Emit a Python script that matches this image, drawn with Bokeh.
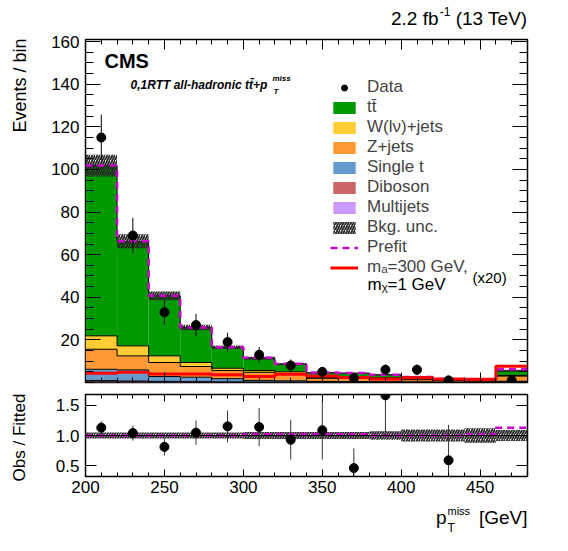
import numpy as np
from bokeh.plotting import figure
from bokeh.models import (Range1d, LinearAxis, FixedTicker, Label, Legend,
                          LegendItem, CustomJSTickFormatter, Span)
from bokeh.layouts import column, row
from bokeh.embed import file_html
from bokeh.resources import INLINE

# ---------------- data ----------------
bin_edges = [200, 220, 240, 260, 280, 300, 320, 340, 360, 380, 400, 420, 440, 460, 480]
data_counts = [115, 69, 33, 27, 19, 13, 8, 5, 2, 6, 6, 1, 0, 1]
multijets = [0.3, 0.2, 0.2, 0.1, 0.1, 0.1, 0.1, 0.05, 0.05, 0.05, 0.05, 0.05, 0.05, 0.1]
diboson = [0.6, 0.5, 0.3, 0.3, 0.2, 0.1, 0.1, 0.1, 0.1, 0.05, 0.05, 0.05, 0.05, 0.1]
single_t = [5.3, 5.2, 2.3, 2.1, 1.5, 0.8, 0.6, 0.4, 0.3, 0.3, 0.2, 0.1, 0.1, 0.4]
zjets = [9.4, 6.6, 6.6, 5.0, 3.8, 3.8, 3.1, 1.4, 1.6, 1.4, 1.0, 0.7, 0.5, 2.4]
wjets = [6.3, 4.7, 3.1, 1.9, 1.1, 0.8, 1.1, 0.3, 0.5, 0.4, 0.3, 0.2, 0.2, 0.3]
ttbar = [79.9, 49.1, 28.2, 16.4, 9.8, 5.8, 3.6, 2.35, 1.8, 1.4, 1.0, 0.6, 0.4, 2.2]
signal_x20 = [4.3, 4.8, 4.0, 4.0, 3.6, 2.8, 3.9, 3.0, 2.3, 1.7, 2.2, 1.7, 1.5, 7.6]
prefit_over_fit = [1.0, 1.0, 1.0, 1.0, 1.0, 1.02, 1.02, 1.02, 1.02, 1.0, 1.0, 1.0, 1.02, 1.13]
bkg_rel_unc = [0.05, 0.05, 0.05, 0.05, 0.05, 0.06, 0.06, 0.06, 0.06, 0.07, 0.1, 0.1, 0.12, 0.09]
x_major_ticks = [200, 250, 300, 350, 400, 450]
x_minor_ticks = list(range(200, 481, 10))
y_major_ticks = [20, 40, 60, 80, 100, 120, 140, 160]
y_minor_ticks = list(range(0, 162, 5))
ratio_ticks = [0.5, 1.0, 1.5]

colors = {"Multijets": "#cc99ff", "Diboson": "#cc6666", "Single t": "#6699cc",
          "Z+jets": "#ff9933", "W(lν)+jets": "#ffcc33", "tt\u0304": "#009900"}

FONT = "Liberation Sans"

# ---------------- layout geometry (page pixels) ----------------
XL = 30            # left strip holding the rotated axis titles
W = 530            # width of the column of panels
H0 = 30            # strip above (luminosity title)
FR_L, FR_R = 85, 527
P1_T, P1_B = 39, 382
P2_T, P2_B = 394, 476
H1 = 359
H2 = 112
H3 = 49
X0, X1 = 200, 480
Y1MAX = 161
R0, R1 = 0.32, 1.68
BORDER_L = FR_L - XL
BORDER_R = XL + W - FR_R


def gx(px):
    return X0 + (px - FR_L) * (X1 - X0) / (FR_R - FR_L)


def g1(py):
    return Y1MAX * (P1_B - py) / (P1_B - P1_T)


def text_strip(y0, h):
    # a text-only panel whose data coordinates are page pixels
    f = figure(width=W, height=h, x_range=Range1d(FR_L, FR_R), y_range=Range1d(y0 + h, y0),
               output_backend="svg", toolbar_location=None, title_location=None,
               min_border_left=BORDER_L, min_border_right=BORDER_R,
               min_border_top=0, min_border_bottom=0,
               x_axis_location=None, y_axis_location=None)
    f.outline_line_color = None
    f.grid.visible = False
    return f


def style_axes(p, xmaj_in, xmin_in, ymaj_in, ymin_in, xticker, yticker, xlabels):
    empty = CustomJSTickFormatter(code="return ''")
    p.add_layout(LinearAxis(), "above")
    p.add_layout(LinearAxis(), "right")
    for ax in p.xaxis:
        ax.ticker = xticker
        ax.major_tick_in, ax.major_tick_out = xmaj_in, 0
        ax.minor_tick_in, ax.minor_tick_out = xmin_in, 0
    for ax in p.yaxis:
        ax.ticker = yticker
        ax.major_tick_in, ax.major_tick_out = ymaj_in, 0
        ax.minor_tick_in, ax.minor_tick_out = ymin_in, 0
    for ax in p.axis:
        ax.axis_line_color = None
        ax.major_tick_line_color = "black"
        ax.minor_tick_line_color = "black"
        ax.major_label_text_font = FONT
        ax.major_label_text_font_size = "17px"
        ax.major_label_text_color = "black"
    for ax in p.above + p.right:
        ax.formatter = empty
        ax.major_label_text_font_size = "0px"
        ax.major_label_standoff = 0
    if not xlabels:
        p.below[0].formatter = empty
        p.below[0].major_label_text_font_size = "0px"
        p.below[0].major_label_standoff = 0
    else:
        p.below[0].major_label_standoff = 4
    p.left[0].major_label_standoff = 6
    p.outline_line_color = "black"
    p.outline_line_width = 1.5
    p.grid.visible = False


edges = np.array(bin_edges, dtype=float)
left, right = edges[:-1], edges[1:]
centers = 0.5 * (left + right)


def stepy(v):
    v = np.asarray(v, dtype=float)
    return np.append(v, v[-1])


txt = dict(text_font=FONT, text_color="black")

# ---------------- main panel ----------------
p1 = figure(width=W, height=H1, x_range=Range1d(X0, X1), y_range=Range1d(0, Y1MAX),
            output_backend="svg", toolbar_location=None, title_location=None,
            min_border_left=BORDER_L, min_border_right=BORDER_R,
            min_border_top=P1_T - H0, min_border_bottom=H0 + H1 - P1_B)

stack = [("Multijets", multijets), ("Diboson", diboson), ("Single t", single_t),
         ("Z+jets", zjets), ("W(lν)+jets", wjets), ("tt\u0304", ttbar)]
bottom = np.zeros(len(left))
tops = []
stack_r = {}
for name, vals in stack:
    top = bottom + np.array(vals, dtype=float)
    stack_r[name] = p1.quad(left=left, right=right, bottom=bottom, top=top,
                            fill_color=colors[name], line_color=None)
    tops.append(top)
    bottom = top
total = bottom
for top in tops:
    p1.step(x=edges, y=stepy(top), mode="after", line_color="black", line_width=1)

unc = total * np.array(bkg_rel_unc)
hatch_kw = dict(fill_alpha=0, line_color=None, hatch_pattern="/", hatch_color="#262626",
                hatch_scale=5, hatch_weight=1.8)
unc_r = p1.quad(left=left, right=right, bottom=total - unc, top=total + unc, **hatch_kw)

prefit = total * np.array(prefit_over_fit)
prefit_r = p1.step(x=edges, y=stepy(prefit), mode="after", line_color="#cc00cc",
                   line_width=2.5, line_dash="7 5")
sig_r = p1.step(x=edges, y=stepy(signal_x20), mode="after", line_color="#ff0000", line_width=3)

d = np.array(data_counts, dtype=float)
m = d > 0
derr = np.sqrt(d)
p1.segment(x0=centers[m], y0=(d - derr)[m], x1=centers[m], y1=(d + derr)[m],
           line_color="black", line_width=1)
data_r = p1.scatter(x=centers[m], y=d[m], size=9, marker="circle",
                    fill_color="black", line_color="black")

style_axes(p1, 10, 5, 15, 8,
           FixedTicker(ticks=x_major_ticks, minor_ticks=x_minor_ticks),
           FixedTicker(ticks=y_major_ticks, minor_ticks=y_minor_ticks), False)

items = [LegendItem(label="Data", renderers=[data_r])]
for name in ["tt\u0304", "W(lν)+jets", "Z+jets", "Single t", "Diboson", "Multijets"]:
    items.append(LegendItem(label=name, renderers=[stack_r[name]]))
items.append(LegendItem(label="Bkg. unc.", renderers=[unc_r]))
items.append(LegendItem(label="Prefit", renderers=[prefit_r]))
items.append(LegendItem(label="m\u2090=300 GeV,", renderers=[sig_r]))
legend = Legend(items=items, location=(330 - FR_L, P1_B - 277),
                glyph_width=28, glyph_height=15, label_height=20, spacing=0,
                padding=0, margin=0, label_standoff=9,
                label_text_font=FONT, label_text_font_size="17px",
                border_line_alpha=0, background_fill_alpha=0)
p1.add_layout(legend)

p1.add_layout(Label(x=gx(367), y=g1(284), text="m\u1d6a=1 GeV", text_font_size="17px",
                    text_baseline="middle", **txt))
p1.add_layout(Label(x=gx(472), y=g1(277), text="(x20)", text_font_size="15px",
                    text_baseline="middle", **txt))
p1.add_layout(Label(x=gx(104), y=g1(60), text="CMS", text_font_size="20px",
                    text_font_style="bold", text_baseline="middle", **txt))
p1.add_layout(Label(x=gx(130), y=g1(84), text="0,1RTT all-hadronic tt\u0304+p",
                    text_font_size="12px", text_font_style="bold italic",
                    text_baseline="middle", **txt))
p1.add_layout(Label(x=gx(272), y=g1(78), text="miss", text_font_size="8px",
                    text_font_style="bold italic", text_baseline="middle", **txt))
p1.add_layout(Label(x=gx(273), y=g1(91), text="T", text_font_size="8px",
                    text_font_style="bold italic", text_baseline="middle", **txt))

# ---------------- ratio panel ----------------
p2 = figure(width=W, height=H2, x_range=p1.x_range, y_range=Range1d(R0, R1),
            output_backend="svg", toolbar_location=None, title_location=None,
            min_border_left=BORDER_L, min_border_right=BORDER_R,
            min_border_top=P2_T - (H0 + H1), min_border_bottom=H0 + H1 + H2 - P2_B)

rel = np.array(bkg_rel_unc)
p2.quad(left=left, right=right, bottom=1 - rel, top=1 + rel, **hatch_kw)
p2.add_layout(Span(location=1.0, dimension="width", line_color="black", line_width=1.2))
p2.step(x=edges, y=stepy(prefit_over_fit), mode="after", line_color="#cc00cc",
        line_width=2.5, line_dash="7 5")

ratio = np.where(d > 0, d / total, 0.0)
rerr = derr / total
show = (d > 0) & (ratio > R0) & (ratio < R1)
p2.segment(x0=centers[show], y0=(ratio - rerr)[show], x1=centers[show], y1=(ratio + rerr)[show],
           line_color="#333333", line_width=1)
p2.scatter(x=centers[show], y=ratio[show], size=9, marker="circle",
           fill_color="black", line_color="black")

style_axes(p2, 7, 4, 11, 0,
           FixedTicker(ticks=x_major_ticks, minor_ticks=x_minor_ticks),
           FixedTicker(ticks=ratio_ticks, minor_ticks=[]), True)
p2.left[0].formatter = CustomJSTickFormatter(code="return tick.toFixed(1)")

# ---------------- text strips (page-pixel coordinates) ----------------
p0 = text_strip(0, H0)
p0.add_layout(Label(x=527, y=18, text="(13 TeV)", text_font_size="19px",
                    text_align="right", text_baseline="middle", **txt))
p0.add_layout(Label(x=450, y=11, text="-1", text_font_size="12px",
                    text_align="right", text_baseline="middle", **txt))
p0.add_layout(Label(x=438, y=18, text="2.2 fb", text_font_size="19px",
                    text_align="right", text_baseline="middle", **txt))

Y3 = H0 + H1 + H2
p3 = text_strip(Y3, H3)
p3.add_layout(Label(x=527, y=517, text="[GeV]", text_font_size="19px",
                    text_align="right", text_baseline="middle", **txt))
p3.add_layout(Label(x=447, y=510, text="miss", text_font_size="11px",
                    text_baseline="middle", **txt))
p3.add_layout(Label(x=447, y=527, text="T", text_font_size="12px",
                    text_baseline="middle", **txt))
p3.add_layout(Label(x=446, y=517, text="p", text_font_size="19px",
                    text_align="right", text_baseline="middle", **txt))

pL = figure(width=XL, height=H0 + H1 + H2 + H3, x_range=Range1d(0, XL),
            y_range=Range1d(H0 + H1 + H2 + H3, 0), output_backend="svg",
            toolbar_location=None, title_location=None,
            min_border_left=0, min_border_right=0, min_border_top=0, min_border_bottom=0,
            x_axis_location=None, y_axis_location=None)
pL.outline_line_color = None
pL.grid.visible = False
pL.add_layout(Label(x=19, y=38, text="Events / bin", text_font_size="18px",
                    angle=np.pi / 2, text_align="right", text_baseline="middle", **txt))
pL.add_layout(Label(x=19, y=437, text="Obs / Fitted", text_font_size="17px",
                    angle=np.pi / 2, text_align="center", text_baseline="middle", **txt))

layout = row(pL, column(p0, p1, p2, p3, spacing=0), spacing=0)
open("out.html", "w").write(file_html(layout, INLINE))
